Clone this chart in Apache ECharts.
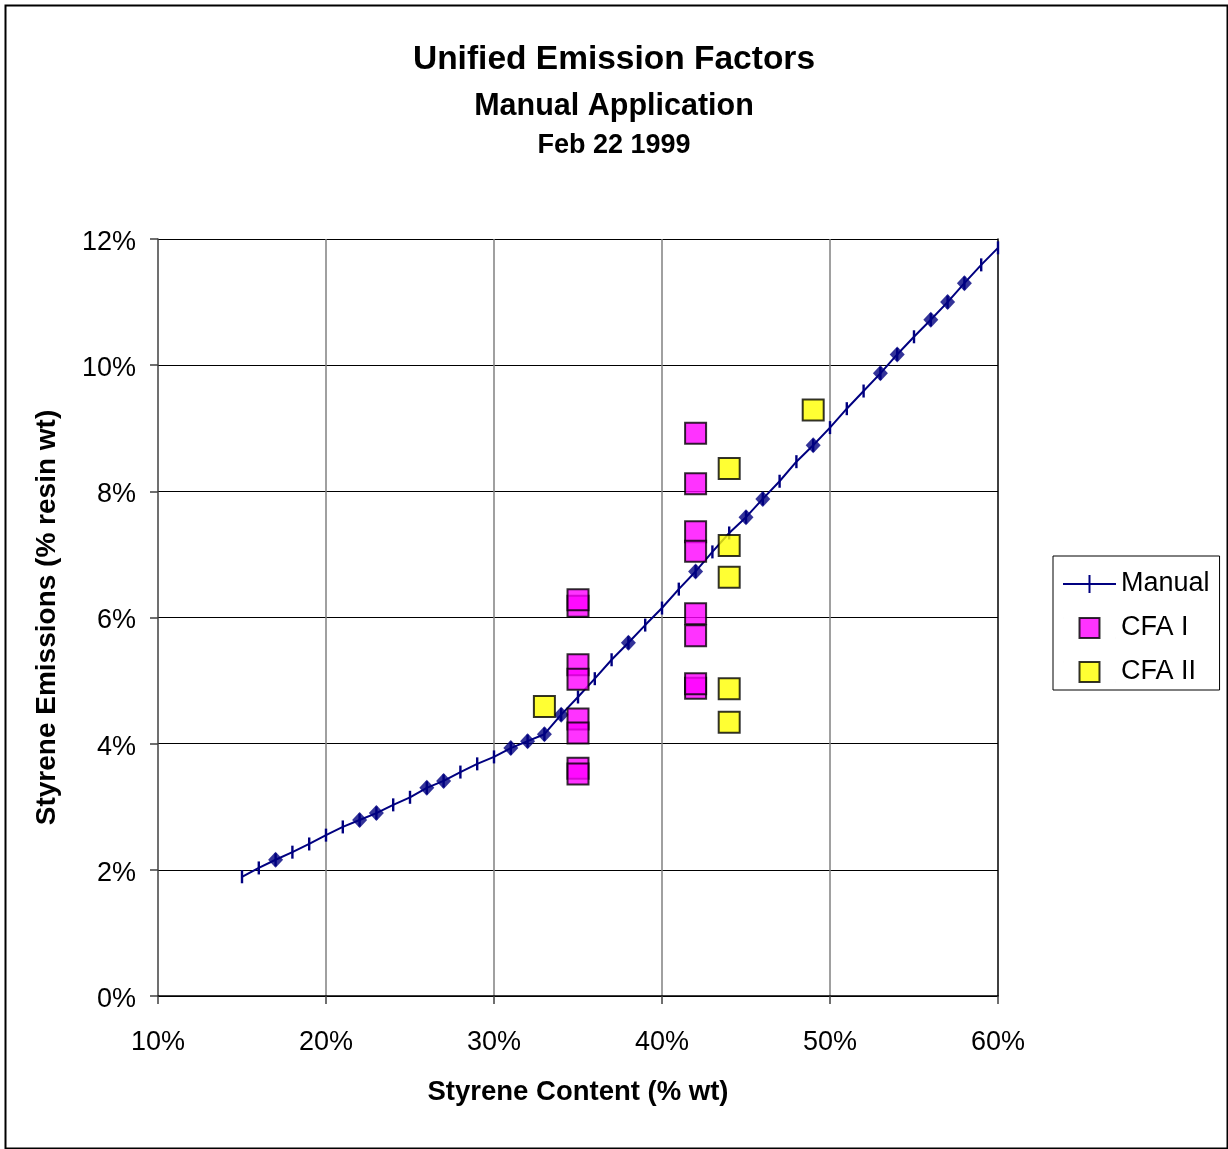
<!DOCTYPE html>
<html>
<head>
<meta charset="utf-8">
<script src="https://cdn.jsdelivr.net/npm/echarts@6/dist/echarts.min.js"></script>
<style>
html,body{margin:0;padding:0;background:#fff;}
#chart{width:1228px;height:1149px;}
</style>
</head>
<body>
<div id="chart"></div>
<script>
// ---- data (percent units) ----
var xTicks = [10, 20, 30, 40, 50, 60];
var yTicks = [0, 2, 4, 6, 8, 10, 12];

var manualX = [15,16,17,18,19,20,21,22,23,24,25,26,27,28,29,30,31,32,33,34,35,36,37,38,39,40,41,42,43,44,45,46,47,48,49,50,51,52,53,54,55,56,57,58,59,60];
var manualY = [1.89,2.03,2.16,2.28,2.41,2.55,2.68,2.79,2.90,3.03,3.15,3.30,3.41,3.55,3.68,3.79,3.93,4.04,4.15,4.46,4.74,5.03,5.33,5.60,5.88,6.15,6.45,6.73,7.04,7.34,7.59,7.88,8.16,8.47,8.73,9.01,9.31,9.59,9.87,10.17,10.45,10.72,11.00,11.30,11.59,11.86];
var diamondX = [17,22,23,26,27,31,32,33,34,38,42,45,46,49,53,54,56,57,58];

var cfa1X = [35,35,35,35,35,35,35,35,42,42,42,42,42,42,42,42];
var cfa1Y = [6.18,6.28,5.25,5.02,4.39,4.17,3.61,3.52,8.92,8.12,7.36,7.05,6.06,5.71,4.88,4.95];

var cfa2X = [33,44,44,44,44,44,49];
var cfa2Y = [4.59,8.36,7.14,6.64,4.87,4.34,9.29];

// ---- build ----
function zip(xs, ys){ return xs.map(function(x,i){ return [x, ys[i]]; }); }
var manualData = zip(manualX, manualY);
var diamondData = diamondX.map(function(x){ return [x, manualY[manualX.indexOf(x)]]; });

var FONT = '"Liberation Sans", Arial, sans-serif';
var NAVY = '#000080';
var SQUARE_ICON = 'path://M0,0 L0.01,0 M53,20 L53.01,20 M16.5,0 L36.5,0 L36.5,20 L16.5,20 Z';

var chart = echarts.init(document.getElementById('chart'), null, {renderer:'canvas'});
var option = {
  backgroundColor: '#fff',
  animation: false,
  textStyle: {fontFamily: FONT},
  title: [
    {text:'Unified Emission Factors', left:'center', top:43.5, padding:0,
     textStyle:{fontFamily:FONT, fontSize:33.5, fontWeight:'bold', color:'#000', lineHeight:33.5}},
    {text:'Manual Application', left:'center', top:91.5, padding:0,
     textStyle:{fontFamily:FONT, fontSize:30.5, fontWeight:'bold', color:'#000', lineHeight:30.5}},
    {text:'Feb 22 1999', left:'center', top:132.5, padding:0,
     textStyle:{fontFamily:FONT, fontSize:27, fontWeight:'bold', color:'#000', lineHeight:27}}
  ],
  graphic: [
    {type:'rect', left:3, top:3, z:100, silent:true,
     shape:{x:0, y:0, width:1222, height:1143},
     style:{fill:'none', stroke:'#000', lineWidth:2}}
  ],
  legend: {
    orient:'vertical', left:1053, top:556,
    padding:[14.5, 10, 4.5, 9],
    itemWidth:53, itemHeight:20, itemGap:17, itemTextGap:6,
    borderColor:'#000', borderWidth:1, backgroundColor:'#fff',
    symbolKeepAspect:true,
    textStyle:{fontFamily:FONT, fontSize:27, color:'#000', lineHeight:27},
    data:[
      {name:'Manual', icon:'path://M0,9 L53,9 L53,11 L0,11 Z M25.5,1 L27.5,1 L27.5,19 L25.5,19 Z', itemStyle:{color:NAVY, borderWidth:0}},
      {name:'CFA I', icon:SQUARE_ICON},
      {name:'CFA II', icon:SQUARE_ICON}
    ]
  },
  grid: {left:158, top:239, width:840, height:757, containLabel:false},
  xAxis: [{
    type:'value', min:10, max:60, interval:10,
    name:'Styrene Content (% wt)', nameLocation:'middle', nameGap:83,
    nameTextStyle:{fontFamily:FONT, fontSize:27.5, fontWeight:'bold', color:'#000', lineHeight:27.5},
    axisLine:{show:true, onZero:false, lineStyle:{color:'#000', width:1.5}},
    axisTick:{show:true, inside:false, length:8, lineStyle:{color:'#404040', width:1.5}},
    axisLabel:{margin:33.5, fontFamily:FONT, fontSize:27, color:'#000', lineHeight:27,
      formatter:function(v){ return v + '%'; }},
    splitLine:{show:true, showMinLine:false, showMaxLine:false, lineStyle:{color:'#808080', width:1.5}}
  }],
  yAxis: [{
    type:'value', min:0, max:12, interval:2,
    name:'Styrene Emissions (% resin wt)', nameLocation:'middle', nameGap:97,
    nameTextStyle:{fontFamily:FONT, fontSize:28, fontWeight:'bold', color:'#000', lineHeight:28},
    axisLine:{show:true, onZero:false, lineStyle:{color:'#404040', width:1.5}},
    axisTick:{show:true, inside:false, length:8, lineStyle:{color:'#404040', width:1.5}},
    axisLabel:{margin:22, color:'#000',
      formatter:function(v){ return '{t|' + v + '%}'; },
      rich:{t:{fontFamily:FONT, fontSize:27, color:'#000', lineHeight:27, padding:[7,0,0,0]}}},
    splitLine:{show:true, lineStyle:{color:'#000', width:1.2}}
  },{
    type:'value', min:0, max:12, interval:2, position:'right',
    axisLine:{show:true, onZero:false, lineStyle:{color:'#000', width:1.5}},
    axisTick:{show:false}, axisLabel:{show:false}, splitLine:{show:false}
  }],
  series: [
    {
      name:'Manual', type:'line', data:manualData, z:3,
      showSymbol:true, showAllSymbol:true,
      symbol:'path://M0,0 L2,0 L2,12 L0,12 Z', symbolSize:[2.4,13],
      lineStyle:{color:NAVY, width:2},
      itemStyle:{color:NAVY},
      emphasis:{disabled:true}
    },
    {
      name:'Manual pts', type:'scatter', data:diamondData, z:4,
      symbol:'diamond', symbolSize:[15,16],
      itemStyle:{color:NAVY},
      emphasis:{disabled:true}
    },
    {
      name:'CFA I', type:'scatter', data:zip(cfa1X, cfa1Y), z:5,
      symbol:'rect', symbolSize:21,
      itemStyle:{color:'#FF00FF', borderColor:'#000', borderWidth:2},
      emphasis:{disabled:true}
    },
    {
      name:'CFA II', type:'scatter', data:zip(cfa2X, cfa2Y), z:5,
      symbol:'rect', symbolSize:21,
      itemStyle:{color:'#FFFF00', borderColor:'#000', borderWidth:2},
      emphasis:{disabled:true}
    }
  ]
};
chart.setOption(option);
</script>
</body>
</html>
